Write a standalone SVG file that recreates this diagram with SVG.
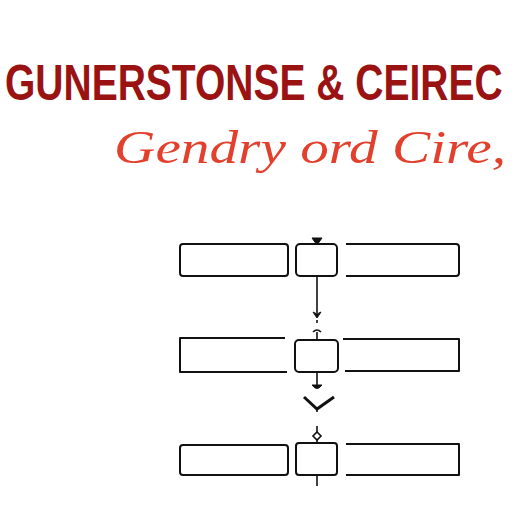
<svg xmlns="http://www.w3.org/2000/svg" width="512" height="512" viewBox="0 0 512 512">
<style>
.box{fill:none;stroke:#111;stroke-width:2;stroke-linejoin:round}
.ln{fill:none;stroke:#111;stroke-width:1.6}
.mk{fill:#111;stroke:#111;stroke-width:1}
.title{font-family:"Liberation Sans",Arial,sans-serif;font-weight:bold;fill:#9a1212}
.sub{font-family:"Liberation Serif","DejaVu Serif",serif;font-style:italic;fill:#e2402c}
</style>
<rect width="512" height="512" fill="#fff"/>
<text class="title" x="0" y="0" font-size="39" transform="translate(5,100) scale(1,1.28)">GUNERSTONSE &amp; CEIREC</text>
<text class="sub" x="114" y="163" font-size="46" textLength="392" lengthAdjust="spacingAndGlyphs">Gendry ord Cire,</text>
<g id="row1">
<rect class="box" x="180" y="244" width="108" height="32" rx="3"/>
<rect class="box" x="296" y="244" width="41" height="32" rx="4"/>
<path class="box" d="M346 244 H456 Q459 244 459 247 V273 Q459 276 456 276 H346"/>
</g>
<g id="row2">
<path class="box" d="M285 338 H180 V372 H287"/>
<rect class="box" x="295" y="340" width="43" height="32" rx="4"/>
<path class="box" d="M343 339 H459 V371 H345"/>
</g>
<g id="row3">
<rect class="box" x="180" y="445" width="108" height="30" rx="3"/>
<rect class="box" x="296" y="443" width="41" height="32" rx="3"/>
<path class="box" d="M346 444 H459 V475 H346"/>
</g>
<g id="connectors">
<path class="mk" d="M312 238 H322 L317 245 Z"/>
<path class="ln" d="M317 276 V313"/>
<path class="mk" d="M313 312 L317 318 L321 312 L317 314 Z"/>
<path class="ln" d="M317 320 V323"/>
<path class="ln" d="M313 332 Q317 328 321 332 M317 332 V340"/>
<path class="ln" d="M317 372 V385"/>
<path class="mk" d="M312 385 H322 Q317 392 312 385 Z"/>
<path d="M304 397 L317 409 L334 397" fill="none" stroke="#111" stroke-width="3"/>
<path class="ln" d="M317 408 V412"/>
<path class="ln" d="M317 426 V432"/>
<path d="M317 432 L321 436 L317 440 L313 436 Z" fill="#fff" stroke="#111" stroke-width="1.6"/>
<path class="ln" d="M317 440 V444"/>
<path class="ln" d="M317 475 V486"/>
</g>
</svg>
